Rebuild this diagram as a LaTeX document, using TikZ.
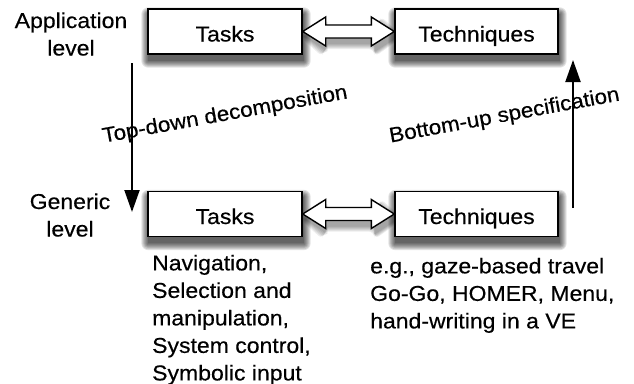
\documentclass[tikz,border=0pt]{standalone}
\usepackage{fontspec}
\setmainfont{Liberation Sans}[FakeStretch=1.07,FakeBold=0.4]
\usetikzlibrary{arrows.meta,calc,backgrounds}
\begin{document}
\begin{tikzpicture}[x=1pt,y=-1pt,
  box/.style={draw,line width=1.4pt,fill=white,minimum height=45pt,inner sep=0pt,
    text height=20pt,text depth=0pt,font=\fontsize{21.5}{27.5}\selectfont},
  blockarrow/.style={draw,line width=1.4pt,fill=white,line join=miter},
  shadlayer/.style={black,opacity=0.11},
  vline/.style={line width=2pt,-{Triangle[length=22pt,width=15pt]}},
  lbl/.style={font=\fontsize{21.5}{27.5}\selectfont,inner sep=0pt},
  rot/.style={font=\fontsize{21}{25}\selectfont,inner sep=0pt,anchor=base}]
\useasboundingbox (0,0) rectangle (634,383);
% boxes
\node[box,minimum width=154pt] (t1) at (225,31.5) {Tasks};
\node[box,minimum width=163pt] (h1) at (476.5,31.5) {Techniques};
\node[box,minimum width=154pt] (t2) at (225,214) {Tasks};
\node[box,minimum width=163pt] (h2) at (476.5,214) {Techniques};
% block double arrows
\foreach \a/\b in {t1/h1,t2/h2}{
  \path[blockarrow] (\a.east) -- ++(23,-14.5) -- ++(0,8)
    -- ($(\b.west)+(-23,-6.5)$) -- ++(0,-8) -- (\b.west)
    -- ++(-23,14.5) -- ++(0,-8) -- ($(\a.east)+(23,6.5)$) -- ++(0,8) -- cycle;
}
% soft drop shadows
\begin{scope}[on background layer]
  \foreach \n in {t1,h1,t2,h2}{
    \foreach \k in {0,1,...,7}{
      \fill[shadlayer,rounded corners=\k pt]
        ($(\n.north west)+(-\k+1,6-\k)$) rectangle ($(\n.south east)+(\k+1,6+\k)$);
    }
  }
  \foreach \a/\b in {t1/h1,t2/h2}{
    \foreach \k in {1,2,...,6}{
      \fill[shadlayer,opacity=0.07,rounded corners=\k pt]
        ($(\a.east)+(3-\k,5)$) -- ++(23,-14.5-\k) -- ++(0,8)
        -- ($(\b.west)+(-20+\k,-1.5-\k)$) -- ++(0,-8) -- ($(\b.west)+(3+\k,5)$)
        -- ++(-23-\k,14.5+\k) -- ++(0,-8) -- ($(\a.east)+(26-\k,11.5+\k)$) -- ++(0,8) -- cycle;
    }
  }
\end{scope}
% level labels
\node[lbl,anchor=base] (app) at (71,28) {Application};
\node[lbl,anchor=base] (applev) at (71,55.5) {level};
\node[lbl,anchor=base] (gen) at (70,209) {Generic};
\node[lbl,anchor=base] (genlev) at (70,236.5) {level};
% vertical arrows
\coordinate (ltop) at (132,63);
\coordinate (lbot) at (132,212);
\coordinate (rbot) at (573,208);
\coordinate (rtop) at (573,60);
\draw[vline] (ltop) -- (lbot);
\draw[vline] (rbot) -- (rtop);
% rotated labels
\node[rot,rotate=10.3] (td) at (226,120.5) {Top-down decomposition};
\node[rot,rotate=10.4] (bu) at (505.5,121.5) {Bottom-up specification};
% descriptions
\node[lbl,align=left,anchor=north west] (tdesc) at (152,254.6)
  {Navigation,\\Selection and\\manipulation,\\System control,\\Symbolic input};
\node[lbl,align=left,anchor=north west] (hdesc) at (370,257.6)
  {e.g., gaze-based travel\\Go-Go, HOMER, Menu,\\hand-writing in a VE};
\end{tikzpicture}
\end{document}
